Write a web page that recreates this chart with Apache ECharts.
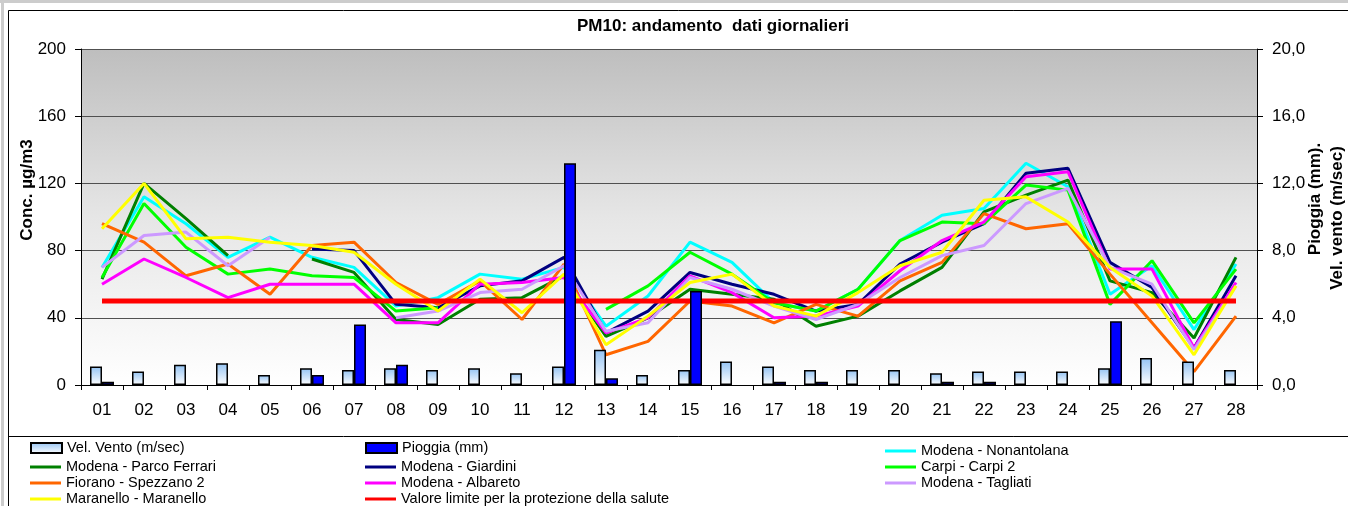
<!DOCTYPE html>
<html>
<head>
<meta charset="utf-8">
<title>PM10: andamento dati giornalieri</title>
<script src="https://cdn.jsdelivr.net/npm/echarts@6/dist/echarts.min.js"></script>
<style>
  html, body { margin: 0; padding: 0; background: #fff; }
  #chart { width: 1348px; height: 506px; }
</style>
</head>
<body>
<div id="chart"></div>
<script>
// giorni del mese
const days = ['01','02','03','04','05','06','07','08','09','10','11','12','13','14',
              '15','16','17','18','19','20','21','22','23','24','25','26','27','28'];

// asse destro: vento (m/sec) e pioggia (mm)
const windSpeed = [1.1, 0.8, 1.2, 1.3, 0.6, 1.0, 0.9, 1.0, 0.9, 1.0, 0.7, 1.1, 2.1, 0.6,
                   0.9, 1.4, 1.1, 0.9, 0.9, 0.9, 0.7, 0.8, 0.8, 0.8, 1.0, 1.6, 1.4, 0.9];
const rain = [0.2, null, null, null, null, 0.6, 3.6, 1.2, null, null, null, 13.2, 0.4, null,
              5.6, null, 0.2, 0.2, null, null, 0.2, 0.2, null, null, 3.8, null, null, null];

// asse sinistro: PM10 (µg/m3) per stazione
const nonantolana = [70, 112, 96, 76, 88, 76, 70, 47, 52, 66, 63, 70, 35, 53,
                     85, 73, 49, 44, 57, 86, 101, 105, 132, 118, 54, 71, 33, 72];
const parcoFerrari = [63, 120, 99, 77, null, 75, 67, 39, 36, 51, 52, 65, 29, 40,
                      57, 54, 51, 35, 41, 56, 70, 103, 113, 122, 62, 55, 28, 76];
const giardini = [null, null, null, null, null, 81, 80, 48, 46, 59, 62, 76, 31, 44,
                  67, 60, 54, 44, 48, 72, 85, 96, 126, 129, 73, 58, 22, 65];
const carpi2 = [64, 108, 82, 66, 69, 65, 64, 44, 46, null, null, null, 45, 59,
                79, 66, 49, 44, 57, 86, 97, 96, 119, 116, 48, 74, 37, 69];
const spezzano2 = [96, 85, 65, 72, 54, 83, 85, 61, 48, 62, 39, 72, 18, 26,
                   50, 47, 37, 48, 41, 62, 73, 102, 93, 96, 66, 37, 8, 41];
const albareto = [60, 75, 64, 52, 60, 60, 60, 37, 37, 60, 61, 64, 31, 40,
                  65, 55, 40, 41, 47, 68, 86, 97, 124, 127, 69, 69, 22, 61];
const tagliati = [70, 89, 91, 71, 88, null, null, 40, 44, 55, 57, 71, 32, 37,
                  64, 57, 47, 39, 48, 64, 77, 83, 108, 117, 70, 60, 21, 59];
const maranello = [93, 120, 87, 88, 85, 83, 79, 60, 44, 63, 43, 66, 24, 41,
                   61, 66, 47, 41, 55, 71, 79, 110, 112, 97, 70, 53, 18, 59];
const limite = [50, 50, 50, 50, 50, 50, 50, 50, 50, 50, 50, 50, 50, 50,
                50, 50, 50, 50, 50, 50, 50, 50, 50, 50, 50, 50, 50, 50];

const leftTicks = [0, 40, 80, 120, 160, 200];
const rightTicks = [0, 4, 8, 12, 16, 20];

const FONT = "'Liberation Sans', Arial, sans-serif";

function linea(name, data, color, width) {
  return {
    name: name,
    type: 'line',
    yAxisIndex: 0,
    data: data,
    symbol: 'none',
    connectNulls: false,
    lineStyle: { color: color, width: width || 3 },
    itemStyle: { color: color },
    z: 2
  };
}

const legendBase = {
  orient: 'vertical',
  selectedMode: false,
  padding: 0,
  itemGap: 0,
  itemWidth: 31,
  height: 90,
  icon: 'rect',
  textStyle: { fontFamily: FONT, fontSize: 14.5, color: '#000', lineHeight: 16 }
};

const option = {
  animation: false,
  backgroundColor: '#fff',
  title: {
    text: 'PM10: andamento  dati giornalieri',
    left: 577,
    top: 18,
    padding: 0,
    textStyle: { fontFamily: FONT, fontSize: 17, fontWeight: 'bold', color: '#000' }
  },
  legend: [
    Object.assign({}, legendBase, { left: 30, top: 440, itemHeight: 10, data: ['Vel. Vento (m/sec)'] }),
    Object.assign({}, legendBase, { left: 365, top: 440, itemHeight: 10, data: ['Pioggia (mm)'] }),
    Object.assign({}, legendBase, { left: 30, top: 459, itemHeight: 3,
      data: ['Modena - Parco Ferrari', 'Fiorano - Spezzano 2', 'Maranello - Maranello'] }),
    Object.assign({}, legendBase, { left: 365, top: 459, itemHeight: 3,
      data: ['Modena - Giardini', 'Modena - Albareto', 'Valore limite per la protezione della salute'] }),
    Object.assign({}, legendBase, { left: 885, top: 443, itemHeight: 3,
      data: ['Modena - Nonantolana', 'Carpi - Carpi 2', 'Modena - Tagliati'] })
  ],
  grid: {
    left: 81, top: 49, width: 1176, height: 336,
    show: true,
    borderWidth: 0,
    outerBoundsMode: 'none',
    backgroundColor: new echarts.graphic.LinearGradient(0, 0, 0, 1, [
      { offset: 0, color: '#bebebe' },
      { offset: 0.5, color: '#e6e6e6' },
      { offset: 1, color: '#ffffff' }
    ])
  },
  xAxis: {
    type: 'category',
    data: days,
    boundaryGap: true,
    axisLine: { lineStyle: { color: '#000', width: 1 } },
    axisTick: { show: true, length: 5, alignWithLabel: false, lineStyle: { color: '#000' } },
    axisLabel: { fontFamily: FONT, fontSize: 17, color: '#000', margin: 17, interval: 0 },
    splitLine: { show: false }
  },
  yAxis: [
    {
      type: 'value',
      min: leftTicks[0],
      max: leftTicks[leftTicks.length - 1],
      interval: 40,
      axisLine: { show: true, lineStyle: { color: '#000', width: 1 } },
      axisTick: { show: true, length: 6, lineStyle: { color: '#000' } },
      axisLabel: { fontFamily: FONT, fontSize: 17, color: '#000', margin: 15 },
      splitLine: { show: true, lineStyle: { color: '#505050', width: 1 } }
    },
    {
      type: 'value',
      position: 'right',
      min: rightTicks[0],
      max: rightTicks[rightTicks.length - 1],
      interval: 4,
      axisLine: { show: true, lineStyle: { color: '#000', width: 1 } },
      axisTick: { show: true, length: 6, lineStyle: { color: '#000' } },
      axisLabel: {
        fontFamily: FONT, fontSize: 17, color: '#000', margin: 15,
        formatter: function (v) { return v.toFixed(1).replace('.', ','); }
      },
      splitLine: { show: false }
    }
  ],
  graphic: [
    // bordo foglio / cornice grafico
    { type: 'rect', silent: true, shape: { x: 0, y: 0, width: 1348, height: 3 }, style: { fill: '#cccccc' } },
    { type: 'rect', silent: true, shape: { x: 1, y: 0, width: 3, height: 506 }, style: { fill: '#cccccc' } },
    { type: 'rect', silent: true, shape: { x: 8.5, y: 10.5, width: 1360, height: 520 }, style: { fill: 'none', stroke: '#000', lineWidth: 1 } },
    { type: 'rect', silent: true, shape: { x: 8.5, y: 436.5, width: 1360, height: 120 }, style: { fill: 'none', stroke: '#000', lineWidth: 1 } },
    // titoli assi
    {
      type: 'text', silent: true, x: 27, y: 190, rotation: Math.PI / 2,
      style: { text: 'Conc. µg/m3', font: 'bold 17px ' + FONT, fill: '#000',
               align: 'center', verticalAlign: 'middle', textAlign: 'center', textVerticalAlign: 'middle' }
    },
    {
      type: 'text', silent: true, x: 1315, y: 199, rotation: Math.PI / 2,
      style: { text: 'Pioggia (mm).', font: 'bold 17px ' + FONT, fill: '#000',
               align: 'center', verticalAlign: 'middle', textAlign: 'center', textVerticalAlign: 'middle' }
    },
    {
      type: 'text', silent: true, x: 1337, y: 218, rotation: Math.PI / 2,
      style: { text: 'Vel. vento (m/sec)', font: 'bold 17px ' + FONT, fill: '#000',
               align: 'center', verticalAlign: 'middle', textAlign: 'center', textVerticalAlign: 'middle' }
    }
  ],
  series: [
    {
      name: 'Vel. Vento (m/sec)',
      type: 'bar',
      yAxisIndex: 1,
      data: windSpeed,
      barWidth: 12,
      barGap: '0%',
      z: 3,
      itemStyle: {
        color: new echarts.graphic.LinearGradient(0, 0, 0, 1, [
          { offset: 0, color: '#94c3f3' },
          { offset: 1, color: '#ffffff' }
        ]),
        borderColor: '#000',
        borderWidth: 1.5
      }
    },
    {
      name: 'Pioggia (mm)',
      type: 'bar',
      yAxisIndex: 1,
      data: rain,
      barWidth: 12,
      barGap: '0%',
      z: 3,
      itemStyle: { color: '#0000ff', borderColor: '#000', borderWidth: 1.5 }
    },
    linea('Modena - Nonantolana', nonantolana, '#00ffff'),
    linea('Modena - Parco Ferrari', parcoFerrari, '#008000'),
    linea('Modena - Giardini', giardini, '#000080'),
    linea('Carpi - Carpi 2', carpi2, '#00ff00'),
    linea('Fiorano - Spezzano 2', spezzano2, '#ff6600'),
    linea('Modena - Albareto', albareto, '#ff00ff'),
    linea('Modena - Tagliati', tagliati, '#cc99ff'),
    linea('Maranello - Maranello', maranello, '#ffff00'),
    linea('Valore limite per la protezione della salute', limite, '#ff0000', 5)
  ]
};

const chart = echarts.init(document.getElementById('chart'));
chart.setOption(option);
</script>
</body>
</html>
